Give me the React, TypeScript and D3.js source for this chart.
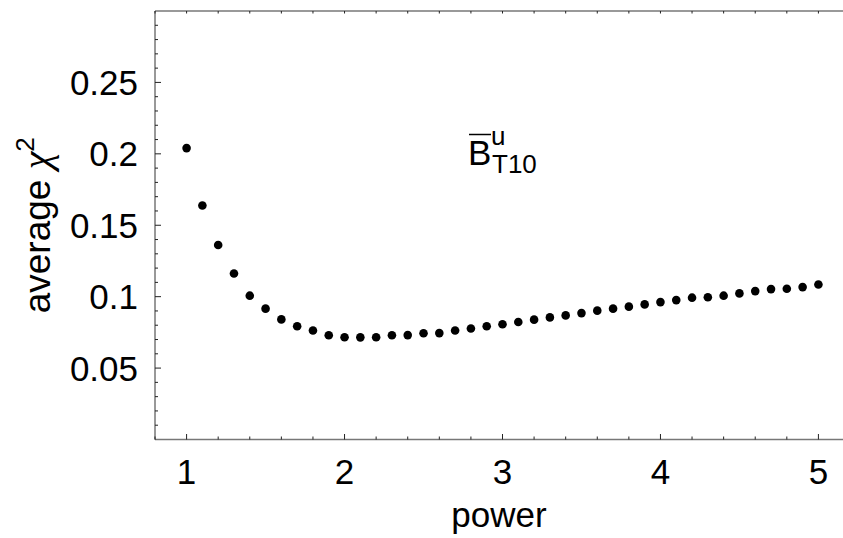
import React from "react";
import * as d3 from "d3";

// data: power exponent vs. average chi^2
const powers = [
  1.0, 1.1, 1.2, 1.3, 1.4, 1.5, 1.6, 1.7, 1.8, 1.9,
  2.0, 2.1, 2.2, 2.3, 2.4, 2.5, 2.6, 2.7, 2.8, 2.9,
  3.0, 3.1, 3.2, 3.3, 3.4, 3.5, 3.6, 3.7, 3.8, 3.9,
  4.0, 4.1, 4.2, 4.3, 4.4, 4.5, 4.6, 4.7, 4.8, 4.9, 5.0,
];
const avgChi2 = [
  0.204, 0.1638, 0.1362, 0.1162, 0.1007, 0.0916, 0.0841, 0.0793, 0.0763, 0.073,
  0.0716, 0.0715, 0.0716, 0.073, 0.0731, 0.0744, 0.0745, 0.0763, 0.0777, 0.0793,
  0.0807, 0.0823, 0.0839, 0.0855, 0.0869, 0.0885, 0.0902, 0.0916, 0.093, 0.0946,
  0.0962, 0.0976, 0.0993, 0.0996, 0.1007, 0.1023, 0.1039, 0.1053, 0.1055, 0.1067, 0.1085,
];
const xTickLabels = ["1", "2", "3", "4", "5"];
const yTickLabels = ["0.05", "0.1", "0.15", "0.2", "0.25"];

const W = 843;
const H = 538;
const font = "'Liberation Sans', Arial, Helvetica, sans-serif";

export default function App() {
  const x = d3.scaleLinear().domain([0.8, 5.2]).range([155, 850]);
  const y = d3.scaleLinear().domain([0, 0.3]).range([439.5, 11]);

  // minor tick grids
  const xMinor = d3.range(0.8, 5.21, 0.2).map((v) => +v.toFixed(1));
  const yMinor = d3.range(0.01, 0.3, 0.01).map((v) => +v.toFixed(2));
  const yMajor = yTickLabels.map(Number);
  const xMajor = xTickLabels.map(Number);

  const left = x(0.8);
  const top = y(0.3);
  const bottom = y(0);

  return (
    <svg
      width={W}
      height={H}
      style={{ position: "fixed", left: 0, top: 0, background: "#fff" }}
      fontFamily={font}
    >
      {/* frame */}
      <line x1={left} x2={W} y1={top} y2={top} stroke="#777" strokeWidth={1.3} />
      <line x1={left} x2={W} y1={bottom} y2={bottom} stroke="#777" strokeWidth={1.3} />
      <line x1={left} x2={left} y1={top} y2={bottom} stroke="#333" strokeWidth={1} />

      {/* x ticks, bottom and top */}
      {xMinor.map((v) => {
        const major = xMajor.some((m) => Math.abs(m - v) < 1e-6);
        return (
          <g key={"xt" + v}>
            <line x1={x(v)} x2={x(v)} y1={bottom} y2={bottom - (major ? 5.5 : 3)} stroke="#222" strokeWidth={1} />
            <line x1={x(v)} x2={x(v)} y1={top} y2={top + 2.5} stroke="#222" strokeWidth={1} />
          </g>
        );
      })}
      {/* y ticks */}
      {yMinor.map((v) => {
        const major = yMajor.some((m) => Math.abs(m - v) < 1e-6);
        return (
          <line key={"yt" + v} x1={left} x2={left + (major ? 6 : 3)} y1={y(v)} y2={y(v)} stroke="#222" strokeWidth={1} />
        );
      })}

      {xTickLabels.map((t) => (
        <text key={"xl" + t} x={x(+t)} y={bottom + 44} fontSize={35} textAnchor="middle" fill="#000">
          {t}
        </text>
      ))}
      {yTickLabels.map((t) => (
        <text key={"yl" + t} x={138} y={y(+t) + 12.5} fontSize={35} textAnchor="end" fill="#000">
          {t}
        </text>
      ))}

      {/* axis titles */}
      <text x={(left + W) / 2} y={527} fontSize={35} textAnchor="middle" fill="#000">
        power
      </text>
      <text transform={`translate(50,${(top + bottom) / 2}) rotate(-90)`} fontSize={37} textAnchor="middle" fill="#000">
        average{" "}
        <tspan fontFamily="'Liberation Serif', 'Times New Roman', serif" fontStyle="italic" fontSize={40}>
          χ
        </tspan>
        <tspan fontSize={26} dy={-16}>
          2
        </tspan>
      </text>

      {/* annotation B-bar ^u _T10 */}
      <line x1={469} x2={491} y1={134.5} y2={134.5} stroke="#000" strokeWidth={1.5} />
      <text x={468} y={165} fontSize={35} fill="#000">
        B
      </text>
      <text x={491} y={145} fontSize={26} fill="#000">
        u
      </text>
      <text x={492} y={173} fontSize={26} fill="#000">
        T10
      </text>

      {/* points */}
      {powers.map((p, i) => (
        <circle key={"pt" + p} cx={x(p)} cy={y(avgChi2[i])} r={4.3} fill="#000" />
      ))}
    </svg>
  );
}
